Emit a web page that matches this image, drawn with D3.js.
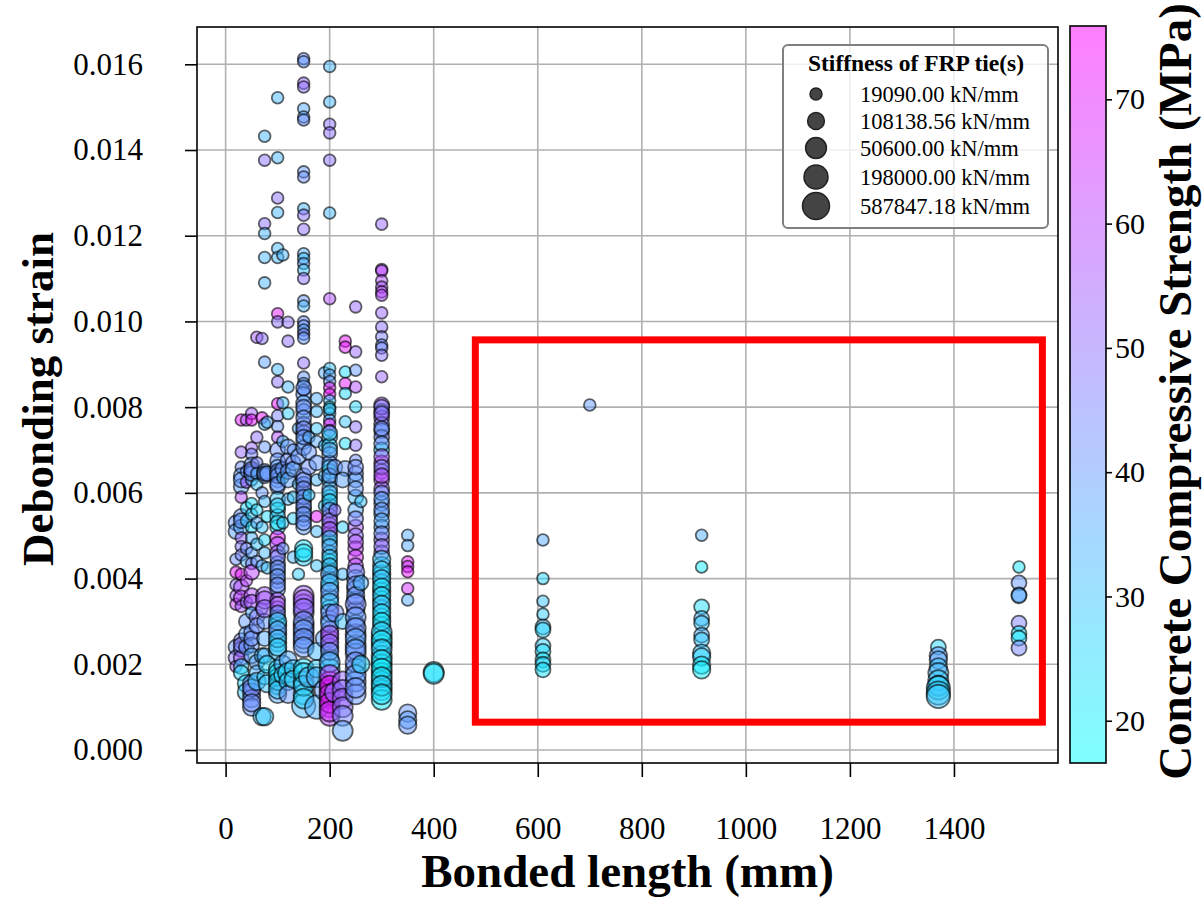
<!DOCTYPE html>
<html>
<head>
<meta charset="utf-8">
<script src="https://cdn.jsdelivr.net/npm/d3@7"></script>
<style>
body { margin: 0; background: #fff; }
text { font-family: "Liberation Serif", "Times New Roman", serif; }
</style>
</head>
<body>
<div class="canvas"></div>
<script>
// tick labels
var xTicks = [0, 200, 400, 600, 800, 1000, 1200, 1400],
    yTicks = [0, 0.002, 0.004, 0.006, 0.008, 0.010, 0.012, 0.014, 0.016],
    fcTicks = [20, 30, 40, 50, 60, 70];

var fcRange = [16.6, 75.9],
    stiffRange = [19090, 587847];

var legendLabels = ['19090.00 kN/mm', '108138.56 kN/mm', '50600.00 kN/mm',
                    '198000.00 kN/mm', '587847.18 kN/mm'];

// highlighted region: [length from, length to, strain from, strain to]
var focusBox = [480, 1570, 0.00065, 0.00957];

// [bonded length (mm), debonding strain (x1e-3), fc (MPa), tie stiffness (x1000 kN/mm)]
var specimens = [
    [20,5.3,40,50],[20,5.1,38,50],[20,4.45,42,20],[20,4.15,72,20],[20,3.85,50,20],[20,3.6,56,20],
    [20,3.4,62,20],[20,2.4,40,50],[20,2.15,48,50],[20,1.95,55,20],
    [30,7.7,70,20],[30,6.95,52,20],[30,6.6,42,20],[30,6.4,40,50],[30,6.15,38,50],[30,5.9,58,20],
    [30,5.45,40,50],[30,5.2,36,50],[30,4.95,52,20],[30,4.75,48,20],[30,4.55,45,20],[30,4.1,68,20],
    [30,3.8,58,50],[30,3.55,60,50],[30,3.35,55,20],[30,2.55,45,50],[30,2.35,42,50],[30,2.15,55,50],
    [30,1.95,30,50],[30,1.8,25,50],[30,5.35,40,50],[30,6.3,40,50],[30,2.45,48,50],
    [40,7.7,55,20],[40,6.5,40,20],[40,6.25,56,20],[40,5.65,26,20],[40,5.35,30,20],[40,4.7,42,20],
    [40,4.4,35,20],[40,3.95,60,20],[40,3.45,52,20],[40,3.0,40,50],[40,2.7,38,50],[40,2.4,40,50],
    [40,1.55,25,100],[40,1.35,30,100],
    [50,7.85,55,20],[50,7.7,72,20],[50,7.05,52,20],[50,6.9,45,20],[50,6.65,40,50],[50,6.5,42,50],
    [50,6.3,33,20],[50,5.75,24,20],[50,5.5,28,20],[50,5.2,23,20],[50,4.95,34,20],[50,4.6,38,20],
    [50,4.35,45,20],[50,4.15,60,50],[50,3.6,58,50],[50,3.45,55,50],[50,3.2,35,20],[50,2.75,42,50],
    [50,2.45,40,50],[50,2.2,35,50],[50,1.55,42,100],[50,1.35,40,100],[50,1.2,45,100],[50,1.0,40,100],
    [50,6.45,40,50],[50,6.55,42,50],[50,1.45,45,100],[50,1.1,42,100],[50,2.6,42,50],
    [60,9.63,55,20],[60,7.3,50,20],[60,6.7,45,20],[60,6.45,35,20],[60,6.2,30,20],[60,5.6,25,20],
    [60,5.3,36,20],[60,4.8,30,20],[60,4.4,40,20],[60,3.1,48,50],[60,2.9,42,50],[60,2.05,38,50],
    [60,1.8,34,50],[60,1.6,30,100],
    [70,9.6,50,20],[70,7.75,72,20],[70,6.0,40,20],[70,5.2,30,20],[70,4.3,35,20],[70,3.3,45,20],
    [70,2.2,32,50],[70,0.78,30,100],
    [75,14.32,33,20],[75,13.76,50,20],[75,12.28,50,20],[75,12.05,33,20],[75,11.49,33,20],
    [75,10.9,33,20],[75,9.05,38,20],[75,7.6,33,20],[75,7.07,40,20],[75,6.5,38,50],[75,6.4,42,50],
    [75,5.8,33,20],[75,4.9,26,20],[75,4.6,33,20],[75,3.6,55,100],[75,3.0,40,50],[75,2.6,36,50],
    [75,2.2,34,50],[75,1.7,28,50],[75,0.78,30,100],[75,6.45,40,50],[75,3.5,55,100],[75,3.3,52,100],
    [80,7.65,36,20],[80,6.45,40,50],[80,5.45,24,20],[80,4.25,30,20],[80,2.0,26,100],[80,1.55,30,100],
    [100,15.22,33,20],[100,13.82,33,20],[100,12.88,50,20],[100,12.54,33,20],[100,11.7,33,20],
    [100,11.49,33,20],[100,10.18,70,20],[100,9.99,50,20],[100,8.88,33,20],[100,8.59,50,20],
    [100,8.08,72,20],[100,7.8,45,20],[100,7.55,40,20],[100,7.3,58,20],[100,7.0,42,50],
    [100,6.75,40,50],[100,6.6,38,50],[100,6.45,42,50],[100,6.3,40,50],[100,6.15,36,50],
    [100,5.85,30,50],[100,5.6,24,50],[100,5.45,28,50],[100,5.2,22,50],[100,4.95,70,50],
    [100,4.8,58,50],[100,4.6,55,50],[100,4.35,40,50],[100,4.15,38,50],[100,3.95,42,50],
    [100,3.75,40,50],[100,3.5,58,50],[100,3.3,55,50],[100,3.1,40,50],[100,2.9,25,100],
    [100,2.7,38,100],[100,2.5,24,100],[100,2.3,30,100],[100,1.9,22,100],[100,1.7,24,100],
    [100,1.5,26,100],[100,1.3,36,100],
    [100,6.5,40,50],[100,6.4,40,50],[100,6.2,42,50],[100,5.7,26,50],[100,5.3,24,50],[100,4.5,44,50],
    [100,4.25,42,50],[100,4.05,40,50],[100,3.85,42,50],[100,3.4,55,50],[100,3.2,42,50],
    [100,3.0,28,100],[100,2.8,40,100],[100,2.6,30,100],[100,2.4,28,100],[100,1.8,24,100],
    [100,1.6,26,100],[100,1.4,30,100],
    [110,11.55,33,20],[110,8.1,30,20],[110,7.2,33,20],[110,6.55,40,50],[110,6.35,30,20],
    [110,5.3,28,20],[110,4.7,40,20],[110,2.0,35,100],[110,1.75,30,100],
    [120,9.98,50,20],[120,9.54,50,20],[120,8.47,33,20],[120,7.85,28,20],[120,7.07,40,50],
    [120,6.75,42,50],[120,6.5,40,50],[120,6.3,38,50],[120,5.85,33,20],[120,2.1,36,100],
    [120,1.8,25,200],[120,1.6,30,100],[120,1.3,40,100],
    [130,7.0,40,20],[130,6.7,42,50],[130,6.55,38,50],[130,5.9,30,20],[130,5.4,28,20],
    [130,4.5,33,20],[130,1.9,30,100],[130,1.65,28,100],
    [140,7.5,35,20],[140,6.85,40,50],[140,6.2,33,20],[140,4.1,28,20],
    [150,16.13,42,20],[150,16.06,40,20],[150,15.56,52,20],[150,15.47,50,20],[150,14.96,36,20],
    [150,14.77,38,20],[150,14.7,42,20],[150,13.49,40,20],[150,13.37,42,20],[150,12.63,33,20],
    [150,12.48,50,20],[150,12.15,50,20],[150,11.58,36,20],[150,11.47,30,20],[150,11.35,38,20],
    [150,11.2,30,20],[150,11.0,50,20],[150,10.48,40,20],[150,10.36,33,20],[150,9.99,42,20],
    [150,9.9,40,20],[150,9.8,38,20],[150,9.7,44,20],[150,9.61,40,20],[150,9.03,50,20],
    [150,8.7,40,20],[150,8.55,38,20],[150,8.4,42,20],[150,8.3,40,50],[150,8.1,38,50],
    [150,7.9,40,50],[150,7.6,42,50],[150,7.4,40,50],[150,7.2,38,50],[150,7.05,40,50],
    [150,6.4,42,50],[150,6.2,40,50],[150,6.0,38,50],[150,5.8,40,50],[150,5.6,42,50],
    [150,5.4,40,50],[150,5.2,38,50],[150,4.7,24,100],[150,4.5,26,100],[150,3.6,55,200],
    [150,3.4,52,200],[150,3.2,50,200],[150,2.9,40,200],[150,2.7,42,200],[150,2.5,38,200],
    [150,1.9,24,200],[150,1.6,26,200],[150,1.3,28,200],[150,1.03,33,500],
    [150,8.45,40,50],[150,8.0,42,50],[150,7.75,40,50],[150,7.5,44,50],[150,7.3,40,50],
    [150,6.3,42,50],[150,6.1,44,50],[150,5.9,40,50],[150,5.7,42,50],[150,5.5,40,50],
    [150,5.3,42,50],[150,4.6,22,100],[150,3.5,55,200],[150,3.3,50,200],[150,3.0,42,200],
    [150,2.8,40,200],[150,2.6,42,200],[150,2.4,40,200],[150,1.8,26,200],[150,1.5,28,200],
    [150,1.2,26,200],
    [160,7.3,36,20],[160,6.95,40,50],[160,6.6,42,50],[160,5.95,28,20],[160,1.7,33,200],
    [175,8.2,35,20],[175,7.9,33,20],[175,7.5,30,20],[175,7.2,36,20],[175,6.7,40,50],
    [175,6.3,33,20],[175,5.45,72,20],[175,5.1,33,20],[175,4.3,30,20],[175,2.3,33,100],
    [175,1.9,28,100],[175,1.7,34,200],[175,1.0,35,500],
    [190,8.8,36,20],[190,7.1,30,20],[190,6.4,34,20],[190,5.7,28,20],[190,2.6,38,100],[190,1.4,40,200],
    [200,15.95,33,20],[200,15.12,33,20],[200,14.6,50,20],[200,14.4,50,20],[200,13.76,50,20],
    [200,12.53,33,20],[200,10.53,58,20],[200,8.9,30,20],[200,8.75,36,20],[200,8.6,40,20],
    [200,8.45,70,20],[200,8.3,72,20],[200,8.15,30,20],[200,8.0,24,20],[200,7.85,28,20],
    [200,7.7,40,20],[200,7.6,72,20],[200,7.45,70,20],[200,7.3,30,50],[200,7.1,26,50],
    [200,6.9,38,50],[200,6.7,40,50],[200,6.5,24,50],[200,6.3,30,50],[200,6.1,36,50],
    [200,5.9,24,50],[200,5.7,40,50],[200,5.45,55,50],[200,5.25,58,50],[200,5.05,52,50],
    [200,4.85,24,50],[200,4.6,30,50],[200,4.4,22,50],[200,4.2,26,50],[200,4.0,38,50],
    [200,3.8,24,100],[200,3.55,36,100],[200,3.3,28,100],[200,3.05,40,100],[200,2.8,55,100],
    [200,2.6,58,100],[200,2.4,50,100],[200,2.15,30,100],[200,1.9,24,200],[200,1.6,72,200],
    [200,1.4,70,200],[200,1.2,68,200],[200,1.0,72,200],[200,0.8,60,200],
    [200,7.95,30,20],[200,7.4,28,50],[200,7.0,36,50],[200,6.6,30,50],[200,6.4,40,50],
    [200,6.0,30,50],[200,5.8,26,50],[200,5.6,40,50],[200,5.35,50,50],[200,5.15,55,50],
    [200,4.95,30,50],[200,4.75,36,50],[200,4.5,28,50],[200,4.3,30,50],[200,4.1,36,100],
    [200,3.9,30,100],[200,3.7,40,100],[200,3.45,30,100],[200,3.2,42,100],[200,2.95,36,100],
    [200,2.7,55,100],[200,2.5,50,100],[200,2.3,40,100],[200,2.05,36,200],[200,1.75,60,200],
    [200,1.5,72,200],[200,1.3,66,200],[200,1.1,70,200],[200,0.9,66,200],
    [210,6.6,40,50],[210,5.6,50,20],[210,3.2,45,100],[210,1.35,48,200],
    [230,9.54,72,20],[230,9.4,70,20],[230,8.82,24,20],[230,8.55,70,20],[230,8.32,26,20],
    [230,7.66,30,20],[230,7.15,24,20],[230,6.57,40,50],
    [225,6.3,38,50],[225,5.2,28,20],[225,4.1,33,20],[225,3.0,30,50],[225,1.6,52,200],
    [225,1.4,50,200],[225,1.2,55,200],[225,1.0,50,200],[225,0.8,45,200],[225,0.45,38,200],
    [250,10.34,52,20],[250,9.29,52,20],[250,8.86,40,20],[250,8.47,58,20],[250,8.01,26,20],
    [250,7.54,50,20],[250,7.11,50,20],[250,6.76,42,20],[250,6.45,40,50],[250,6.3,38,50],
    [250,5.9,33,50],[250,5.6,36,50],[250,5.2,55,50],[250,5.0,50,50],[250,4.7,60,50],
    [250,4.5,65,50],[250,4.3,58,50],[250,4.0,40,100],[250,3.75,38,100],[250,3.5,40,100],
    [250,3.25,42,100],[250,2.95,36,100],[250,2.7,40,200],[250,2.45,38,200],[250,2.25,42,200],
    [250,1.9,40,200],[250,1.6,38,200],[250,1.3,40,200],
    [250,6.6,42,50],[250,6.1,40,50],[250,5.4,45,50],[250,4.85,58,50],[250,4.15,44,100],
    [250,3.85,42,100],[250,3.6,40,100],[250,3.4,44,200],[250,3.1,40,200],[250,2.85,42,200],
    [250,2.6,38,200],[250,2.35,40,200],[250,2.05,42,200],[250,1.75,40,200],[250,1.45,42,200],
    [260,5.8,30,20],[260,3.9,33,50],[260,2.0,26,100],
    [300,12.27,52,20],[300,11.21,58,20],[300,11.18,60,20],[300,10.95,58,20],[300,10.8,56,20],
    [300,10.69,60,20],[300,10.61,58,20],[300,10.2,52,20],[300,9.87,50,20],[300,9.64,46,20],
    [300,9.45,42,20],[300,9.38,45,20],[300,9.21,48,20],[300,8.71,52,20],[300,8.05,58,50],
    [300,7.9,42,50],[300,7.75,55,50],[300,7.6,45,50],[300,7.45,40,50],[300,7.3,44,50],
    [300,7.0,22,50],[300,6.7,58,50],[300,6.5,55,50],[300,6.3,60,50],[300,6.1,52,50],
    [300,5.75,40,50],[300,5.5,36,50],[300,5.2,38,50],[300,4.9,55,50],[300,4.6,52,50],
    [300,4.3,30,100],[300,4.1,24,100],[300,3.9,26,100],[300,3.7,30,100],[300,3.5,24,100],
    [300,3.3,28,100],[300,3.1,22,100],[300,2.9,30,100],[300,2.65,24,200],[300,2.45,26,200],
    [300,2.2,22,200],[300,2.0,24,200],[300,1.8,22,200],[300,1.6,25,200],[300,1.4,22,200],
    [300,1.17,20,200],
    [300,8.0,45,50],[300,7.85,50,50],[300,7.5,42,50],[300,7.15,40,50],[300,6.85,55,50],
    [300,6.6,45,50],[300,6.4,58,50],[300,6.0,42,50],[300,5.85,38,50],[300,5.6,40,50],
    [300,5.35,36,50],[300,5.05,42,50],[300,4.75,48,50],[300,4.45,30,100],[300,4.2,28,100],
    [300,4.0,30,100],[300,3.8,22,100],[300,3.6,26,100],[300,3.4,30,100],[300,3.2,24,100],
    [300,3.0,22,100],[300,2.75,26,200],[300,2.55,22,200],[300,2.35,28,200],[300,2.1,22,200],
    [300,1.9,20,200],[300,1.7,24,200],[300,1.5,26,200],[300,1.3,24,200],
    [350,5.01,36,20],[350,4.77,36,20],[350,4.39,70,20],[350,4.28,62,20],[350,4.16,72,20],
    [350,3.77,66,20],[350,3.5,36,20],[350,0.86,40,100],[350,0.7,38,100],[350,0.58,40,100],
    [400,1.82,22,200],[400,1.78,24,200],
    [610,4.9,36,20],[610,4.0,26,20],[610,3.47,30,20],[610,3.17,28,20],[610,2.87,30,50],
    [610,2.8,26,50],[610,2.43,28,50],[610,2.3,24,50],[610,2.1,22,50],[610,2.0,26,50],
    [610,1.87,22,50],
    [700,8.05,40,20],
    [915,5.01,35,20],[915,4.27,21,20],[915,3.34,24,50],[915,3.07,32,50],[915,2.96,30,50],
    [915,2.68,33,50],[915,2.57,28,50],[915,2.26,30,100],[915,2.17,26,100],[915,1.98,22,100],
    [915,1.87,20,100],
    [1370,2.4,26,50],[1370,2.2,40,100],[1370,2.1,36,100],[1370,1.94,30,100],[1370,1.8,34,200],
    [1370,1.63,28,200],[1370,1.5,30,200],[1370,1.45,26,500],[1370,1.33,28,500],[1370,1.25,30,500],
    [1525,4.27,22,20],[1525,3.9,40,50],[1525,3.62,38,50],[1525,3.6,36,50],[1525,2.96,46,50],
    [1525,2.72,22,50],[1525,2.61,24,50],[1525,2.38,45,50]
];

// layout
var W = 1204, H = 899,
    margin = { top: 27, right: 146, bottom: 136, left: 197 },
    width = W - margin.left - margin.right,
    height = H - margin.top - margin.bottom;

var x = d3.scaleLinear().domain([-55, 1600]).range([0, width]),
    y = d3.scaleLinear().domain([-0.000303, 0.01687]).range([height, 0]),
    color = d3.scaleLinear().domain(fcRange).range(['#00ffff', '#ff00ff'])
        .interpolate(d3.interpolateRgb),
    radius = d3.scaleLog().domain(stiffRange).range([5.8, 12]);

var svg = d3.select('.canvas').append('svg')
    .attr('width', W)
    .attr('height', H);

svg.append('rect').attr('width', W).attr('height', H).attr('fill', '#fff');

var plot = svg.append('g')
    .attr('transform', 'translate(' + margin.left + ',' + margin.top + ')');

// grid
plot.append('g').selectAll('line')
    .data(xTicks).enter().append('line')
    .attr('x1', function (d) { return x(d); })
    .attr('x2', function (d) { return x(d); })
    .attr('y1', 0).attr('y2', height)
    .attr('stroke', '#b0b0b0').attr('stroke-width', 1.6);

plot.append('g').selectAll('line')
    .data(yTicks).enter().append('line')
    .attr('y1', function (d) { return y(d); })
    .attr('y2', function (d) { return y(d); })
    .attr('x1', 0).attr('x2', width)
    .attr('stroke', '#b0b0b0').attr('stroke-width', 1.6);

// points
plot.append('g').selectAll('circle')
    .data(specimens).enter().append('circle')
    .attr('cx', function (d) { return x(d[0]); })
    .attr('cy', function (d) { return y(d[1] / 1000); })
    .attr('r', function (d) { return radius(d[3] * 1000); })
    .attr('fill', function (d) { return color(d[2]); })
    .attr('fill-opacity', 0.5)
    .attr('stroke', '#000')
    .attr('stroke-opacity', 0.6)
    .attr('stroke-width', 1.8);

// highlighted region
plot.append('rect')
    .attr('x', x(focusBox[0]))
    .attr('y', y(focusBox[3]))
    .attr('width', x(focusBox[1]) - x(focusBox[0]))
    .attr('height', y(focusBox[2]) - y(focusBox[3]))
    .attr('fill', 'none')
    .attr('stroke', '#ff0000')
    .attr('stroke-width', 7);

// axes
var xAxis = plot.append('g')
    .attr('transform', 'translate(0,' + height + ')')
    .call(d3.axisBottom(x).tickValues(xTicks).tickFormat(d3.format('d'))
        .tickSize(14).tickPadding(40));

var yAxis = plot.append('g')
    .call(d3.axisLeft(y).tickValues(yTicks).tickFormat(d3.format('.3f'))
        .tickSize(12).tickPadding(42));

[xAxis, yAxis].forEach(function (a) {
    a.select('.domain').remove();
    a.selectAll('line').attr('stroke', '#000').attr('stroke-width', 1.6);
    a.selectAll('text').attr('fill', '#000')
        .style('font-size', '31px')
        .style('font-family', '"Liberation Serif", "Times New Roman", serif');
});

plot.append('rect')
    .attr('width', width).attr('height', height)
    .attr('fill', 'none').attr('stroke', '#000').attr('stroke-width', 1.6);

// axis titles
svg.append('text')
    .attr('x', margin.left + width / 2)
    .attr('y', 887)
    .attr('text-anchor', 'middle')
    .style('font-size', '47px').style('font-weight', 'bold')
    .text('Bonded length (mm)');

svg.append('text')
    .attr('transform', 'translate(53,' + (margin.top + height / 2 + 4) + ') rotate(-90)')
    .attr('text-anchor', 'middle')
    .style('font-size', '45px').style('font-weight', 'bold')
    .text('Debonding strain');

// legend
var lg = svg.append('g');
lg.append('rect')
    .attr('x', 783).attr('y', 45).attr('width', 265).attr('height', 183)
    .attr('rx', 5)
    .attr('fill', '#fff').attr('fill-opacity', 0.8)
    .attr('stroke', '#808080').attr('stroke-width', 2);
lg.append('text')
    .attr('x', 916).attr('y', 71)
    .attr('text-anchor', 'middle')
    .style('font-size', '23.5px').style('font-weight', 'bold')
    .text('Stiffness of FRP tie(s)');

var legendR = [6, 8.4, 10.4, 12, 13.5],
    legendY = [94, 121, 148, 177, 206];

var item = lg.selectAll('.item')
    .data(legendLabels).enter().append('g')
    .attr('transform', function (d, i) { return 'translate(816,' + legendY[i] + ')'; });
item.append('circle')
    .attr('r', function (d, i) { return legendR[i]; })
    .attr('fill', '#444').attr('stroke', '#222').attr('stroke-width', 1.5);
item.append('text')
    .attr('x', 44).attr('y', 7.5)
    .style('font-size', '22.5px')
    .text(function (d) { return d; });

// colorbar
var cb = { x: 1070, y: 26, w: 36, h: 737 },
    cbScale = d3.scaleLinear().domain(fcRange).range([cb.h, 0]);

var grad = svg.append('defs').append('linearGradient')
    .attr('id', 'cool').attr('x1', 0).attr('y1', 1).attr('x2', 0).attr('y2', 0);
grad.selectAll('stop')
    .data(fcRange).enter().append('stop')
    .attr('offset', function (d, i) { return i; })
    .attr('stop-color', function (d) { return color(d); });

var cbg = svg.append('g').attr('transform', 'translate(' + cb.x + ',' + cb.y + ')');
cbg.append('rect')
    .attr('width', cb.w).attr('height', cb.h)
    .attr('fill', 'url(#cool)').attr('fill-opacity', 0.5);
var cbAxis = cbg.append('g')
    .attr('transform', 'translate(' + cb.w + ',0)')
    .call(d3.axisRight(cbScale).tickValues(fcTicks).tickSize(6).tickPadding(3));
cbAxis.select('.domain').remove();
cbAxis.selectAll('line').attr('stroke', '#000').attr('stroke-width', 1.6);
cbAxis.selectAll('text').attr('fill', '#000')
    .style('font-size', '30px')
    .style('font-family', '"Liberation Serif", "Times New Roman", serif');
cbg.append('rect')
    .attr('width', cb.w).attr('height', cb.h)
    .attr('fill', 'none').attr('stroke', '#000').attr('stroke-width', 1.6);

svg.append('text')
    .attr('transform', 'translate(1191,' + (cb.y + cb.h / 2 - 3) + ') rotate(-90)')
    .attr('text-anchor', 'middle')
    .style('font-size', '47px').style('font-weight', 'bold')
    .text('Concrete Compressive Strength (MPa)');
</script>
</body>
</html>
